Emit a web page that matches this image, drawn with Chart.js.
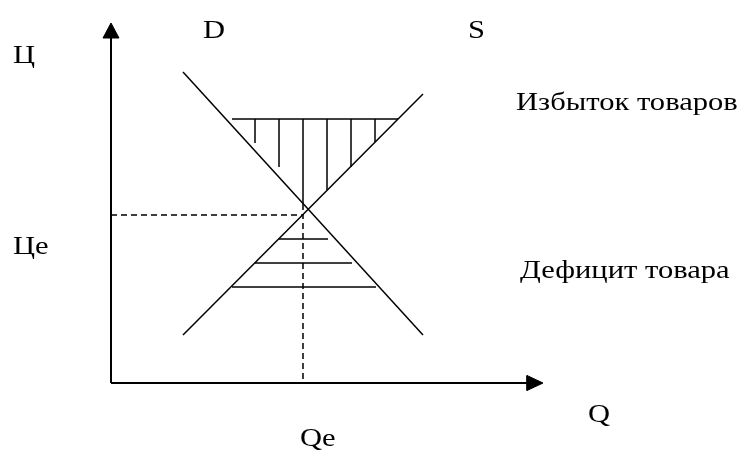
<!DOCTYPE html>
<html>
<head>
<meta charset="utf-8">
<script src="https://cdn.jsdelivr.net/npm/chart.js@4.4.1/dist/chart.umd.min.js"></script>
<style>
html,body{margin:0;padding:0;background:#fff;}
#wrap{width:741px;height:450px;position:relative;}
</style>
</head>
<body>
<div id="wrap"><canvas id="c"></canvas></div>
<script>
// ---- data (Q = quantity, P = price), in abstract units ----
const axisMaxQ = 43.2;
const axisMaxP = 36.0;
const demandQ = [7.2, 31.2];
const demandP = [31.1, 4.8];
const supplyQ = [7.2, 31.2];
const supplyP = [4.8, 28.9];
const equilibriumQ = 19.2;
const equilibriumP = 16.8;
const surplusPrice = 26.4;
const surplusFromTo = [12.1, 28.7];
const surplusHatchQ = [14.4, 16.8, 19.2, 21.6, 24.0, 26.4];
const surplusHatchLowP = [24.0, 21.6, 17.3, 19.3, 21.6, 24.1];
const shortagePrices = [14.4, 12.0, 9.6];
const shortageFromQ = [16.8, 14.4, 12.1];
const shortageToQ = [21.7, 24.1, 26.5];
const labelTexts = ['Ц', 'D', 'S', 'Избыток товаров', 'Дефицит товара', 'Це', 'Qe', 'Q'];
const labelQ = [-9.8, 9.2, 35.7, 40.5, 40.9, -9.8, 18.9, 47.7];
const labelP = [32.0, 34.5, 34.5, 27.3, 10.5, 12.9, -6.3, -3.9];

// ---- build datasets ----
const BLACK = '#000';
function seg(points, opts) {
  return Object.assign({
    data: points, showLine: true, pointRadius: 0, borderColor: BLACK,
    borderWidth: 1.5, fill: false, tension: 0, clip: false
  }, opts || {});
}
const datasets = [];
// axes
datasets.push(seg([{x:0,y:0},{x:0,y:axisMaxP - 1.2}], {borderWidth: 2}));
datasets.push(seg([{x:0,y:0},{x:axisMaxQ - 1.2,y:0}], {borderWidth: 2}));
// arrow heads
datasets.push(seg([{x:-0.8,y:axisMaxP-1.5},{x:0,y:axisMaxP},{x:0.8,y:axisMaxP-1.5},{x:-0.8,y:axisMaxP-1.5}],
  {fill:'shape', backgroundColor: BLACK, borderWidth: 1}));
datasets.push(seg([{x:axisMaxQ-1.6,y:-0.75},{x:axisMaxQ,y:0},{x:axisMaxQ-1.6,y:0.75},{x:axisMaxQ-1.6,y:-0.75}],
  {fill:'shape', backgroundColor: BLACK, borderWidth: 1}));
// demand & supply
datasets.push(seg(demandQ.map((q,i)=>({x:q,y:demandP[i]}))));
datasets.push(seg(supplyQ.map((q,i)=>({x:q,y:supplyP[i]}))));
// equilibrium dashed guides
datasets.push(seg([{x:0,y:equilibriumP},{x:equilibriumQ,y:equilibriumP},{x:equilibriumQ,y:0}],
  {borderDash:[6,4], borderWidth: 1.5}));
// surplus
datasets.push(seg([{x:surplusFromTo[0],y:surplusPrice},{x:surplusFromTo[1],y:surplusPrice}]));
surplusHatchQ.forEach((q,i)=>datasets.push(seg([{x:q,y:surplusPrice},{x:q,y:surplusHatchLowP[i]}])));
// shortage
shortagePrices.forEach((p,i)=>datasets.push(seg([{x:shortageFromQ[i],y:p},{x:shortageToQ[i],y:p}])));

const labelPlugin = {
  id: 'labels',
  afterDatasetsDraw(chart) {
    const ctx = chart.ctx, xs = chart.scales.x, ys = chart.scales.y;
    ctx.save();
    ctx.fillStyle = BLACK;
    ctx.font = '26px "Liberation Serif", "Times New Roman", serif';
    ctx.textAlign = 'left';
    ctx.textBaseline = 'alphabetic';
    labelTexts.forEach((t,i)=>{
      ctx.save();
      ctx.translate(xs.getPixelForValue(labelQ[i]), ys.getPixelForValue(labelP[i]));
      ctx.scale(1.175, 1);
      ctx.fillText(t, 0, 0);
      ctx.restore();
    });
    ctx.restore();
  }
};

new Chart(document.getElementById('c'), {
  type: 'scatter',
  data: { datasets },
  options: {
    responsive: true, maintainAspectRatio: false, animation: false,
    layout: { padding: 0 },
    plugins: { legend: {display:false}, tooltip: {enabled:false} },
    scales: {
      x: { type:'linear', min:-11.1, max:63.0, display:false },
      y: { type:'linear', min:-6.7, max:38.3, display:false }
    }
  },
  plugins: [labelPlugin]
});
</script>
</body>
</html>
